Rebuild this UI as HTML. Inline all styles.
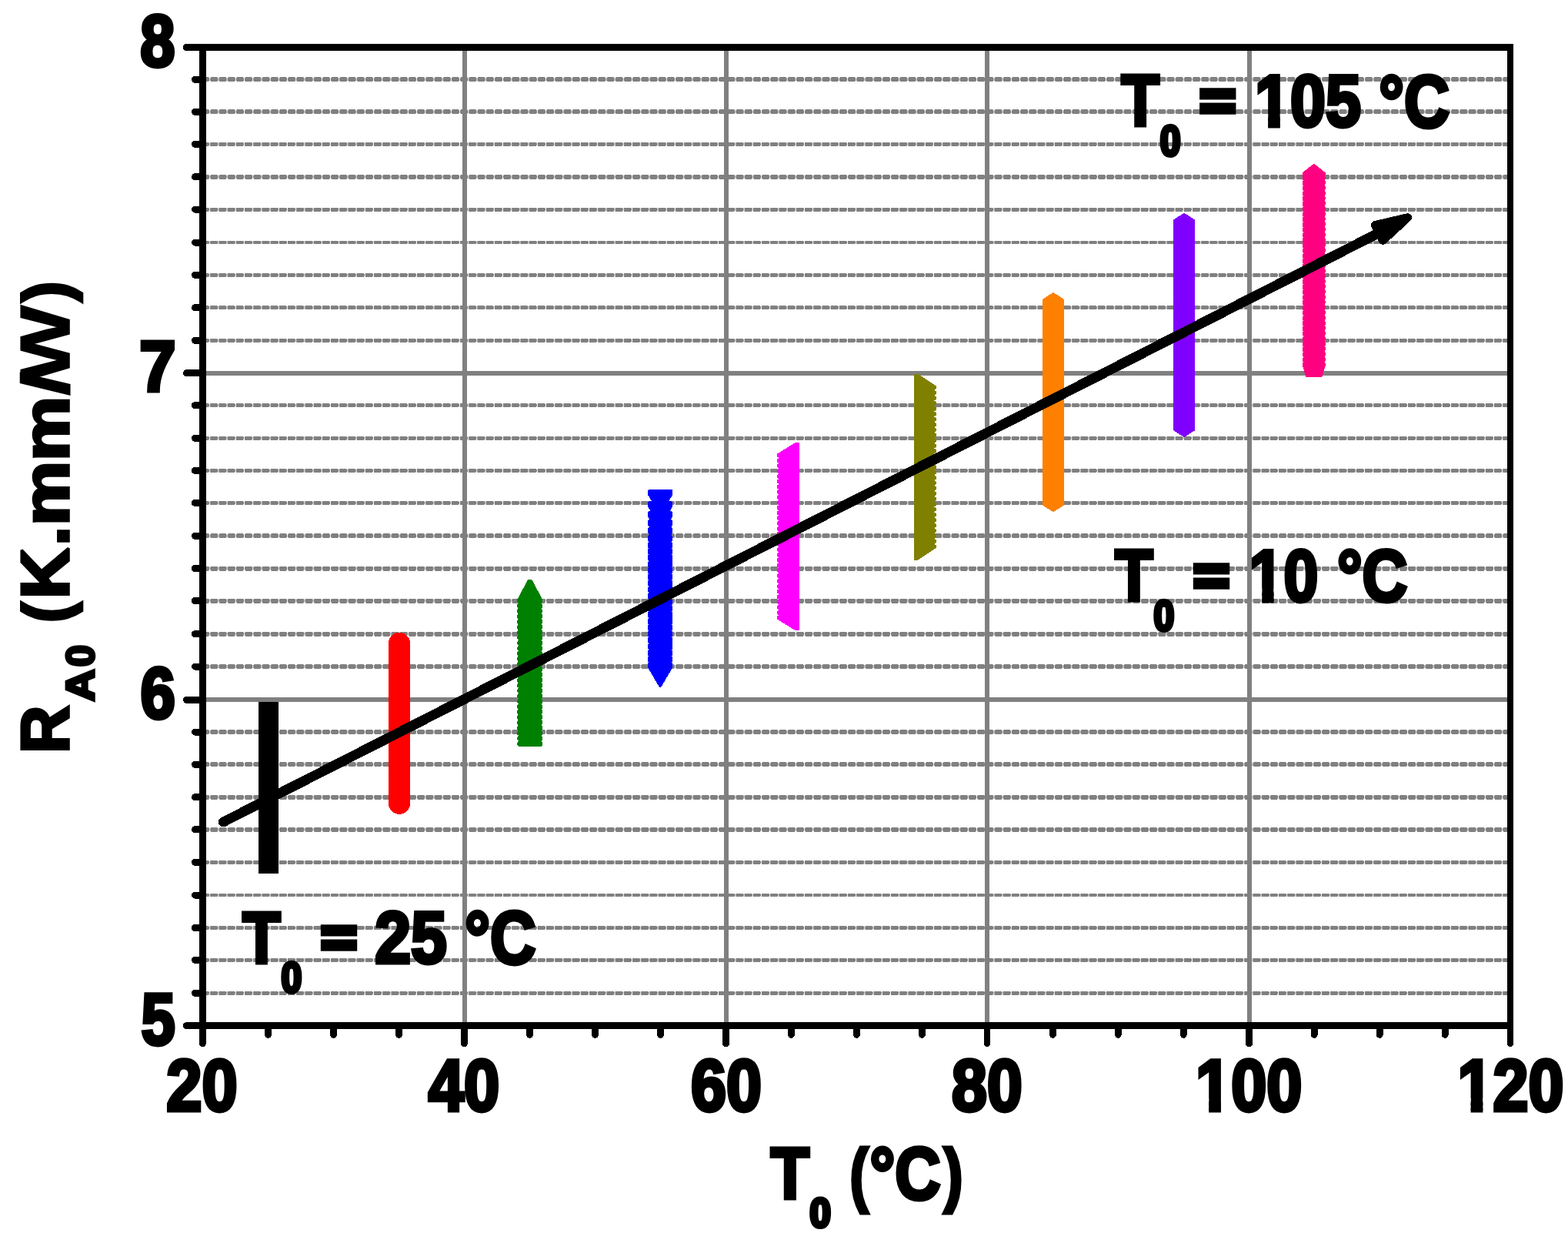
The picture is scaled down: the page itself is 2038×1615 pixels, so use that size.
<!DOCTYPE html>
<html lang="en">
<head>
<meta charset="utf-8">
<title>R_A0 versus T_0</title>
<style>
html,body{margin:0;padding:0;background:#fff;}
body{width:2038px;height:1615px;overflow:hidden;}
svg{display:block;}
</style>
</head>
<body>
<svg width="2038" height="1615" viewBox="0 0 2038 1615" shape-rendering="crispEdges">
<rect x="0" y="0" width="2038" height="1615" fill="#fff"/>
<g stroke="#808080" fill="none">
<defs>
<pattern id="dp" patternUnits="userSpaceOnUse" x="273.2" y="-3.0" width="11.2" height="6.0"><rect x="0" y="0" width="10.1" height="6.0" rx="2.6" ry="2.6" fill="#808080" stroke="none"/></pattern>
<pattern id="dr" patternUnits="userSpaceOnUse" x="273.2" y="-2.45" width="11.2" height="4.9"><rect x="0" y="0" width="9.8" height="4.9" rx="1.1" ry="1.1" fill="#808080" stroke="none"/></pattern>
</defs>
<rect x="263.5" y="-2.45" width="1699.75" height="4.9" fill="url(#dr)" stroke="none" transform="translate(0,1290.20)"/>
<rect x="263.5" y="-2.45" width="1699.75" height="4.9" fill="url(#dr)" stroke="none" transform="translate(0,1247.30)"/>
<rect x="263.5" y="-2.45" width="1699.75" height="4.9" fill="url(#dr)" stroke="none" transform="translate(0,1205.50)"/>
<rect x="263.5" y="-2.45" width="1699.75" height="4.9" fill="url(#dr)" stroke="none" transform="translate(0,1163.00)"/>
<rect x="263.5" y="-2.45" width="1699.75" height="4.9" fill="url(#dr)" stroke="none" transform="translate(0,1120.30)"/>
<rect x="263.5" y="-3.0" width="1699.75" height="6.0" fill="url(#dp)" stroke="none" transform="translate(0,1077.80)"/>
<rect x="263.5" y="-3.0" width="1699.75" height="6.0" fill="url(#dp)" stroke="none" transform="translate(0,1035.70)"/>
<rect x="263.5" y="-3.0" width="1699.75" height="6.0" fill="url(#dp)" stroke="none" transform="translate(0,993.20)"/>
<rect x="263.5" y="-3.0" width="1699.75" height="6.0" fill="url(#dp)" stroke="none" transform="translate(0,951.10)"/>
<rect x="263.5" y="-3.0" width="1699.75" height="6.0" fill="url(#dp)" stroke="none" transform="translate(0,866.00)"/>
<rect x="263.5" y="-3.0" width="1699.75" height="6.0" fill="url(#dp)" stroke="none" transform="translate(0,823.60)"/>
<rect x="263.5" y="-3.0" width="1699.75" height="6.0" fill="url(#dp)" stroke="none" transform="translate(0,780.50)"/>
<rect x="263.5" y="-3.0" width="1699.75" height="6.0" fill="url(#dp)" stroke="none" transform="translate(0,738.50)"/>
<rect x="263.5" y="-3.0" width="1699.75" height="6.0" fill="url(#dp)" stroke="none" transform="translate(0,696.20)"/>
<rect x="263.5" y="-2.45" width="1699.75" height="4.9" fill="url(#dr)" stroke="none" transform="translate(0,653.40)"/>
<rect x="263.5" y="-2.45" width="1699.75" height="4.9" fill="url(#dr)" stroke="none" transform="translate(0,611.40)"/>
<rect x="263.5" y="-2.45" width="1699.75" height="4.9" fill="url(#dr)" stroke="none" transform="translate(0,569.20)"/>
<rect x="263.5" y="-2.45" width="1699.75" height="4.9" fill="url(#dr)" stroke="none" transform="translate(0,526.60)"/>
<rect x="263.5" y="-2.45" width="1699.75" height="4.9" fill="url(#dr)" stroke="none" transform="translate(0,442.30)"/>
<rect x="263.5" y="-2.45" width="1699.75" height="4.9" fill="url(#dr)" stroke="none" transform="translate(0,399.70)"/>
<rect x="263.5" y="-2.45" width="1699.75" height="4.9" fill="url(#dr)" stroke="none" transform="translate(0,357.30)"/>
<rect x="263.5" y="-2.45" width="1699.75" height="4.9" fill="url(#dr)" stroke="none" transform="translate(0,315.00)"/>
<rect x="263.5" y="-2.45" width="1699.75" height="4.9" fill="url(#dr)" stroke="none" transform="translate(0,272.10)"/>
<rect x="263.5" y="-3.0" width="1699.75" height="6.0" fill="url(#dp)" stroke="none" transform="translate(0,229.80)"/>
<rect x="263.5" y="-2.45" width="1699.75" height="4.9" fill="url(#dr)" stroke="none" transform="translate(0,187.20)"/>
<rect x="263.5" y="-3.0" width="1699.75" height="6.0" fill="url(#dp)" stroke="none" transform="translate(0,145.20)"/>
<rect x="263.5" y="-3.0" width="1699.75" height="6.0" fill="url(#dp)" stroke="none" transform="translate(0,103.20)"/>
<line x1="263.5" y1="908.90" x2="1963.25" y2="908.90" stroke-width="5.9"/>
<line x1="263.5" y1="485.00" x2="1963.25" y2="485.00" stroke-width="5.9"/>
<line x1="604.00" y1="61.4" x2="604.00" y2="1332.7" stroke-width="5.8"/>
<line x1="944.00" y1="61.4" x2="944.00" y2="1332.7" stroke-width="5.8"/>
<line x1="1283.00" y1="61.4" x2="1283.00" y2="1332.7" stroke-width="5.8"/>
<line x1="1624.00" y1="61.4" x2="1624.00" y2="1332.7" stroke-width="5.8"/>
</g>
<rect x="336.0" y="911.8" width="26" height="223.1" fill="#000"/>
<rect x="504.8" y="821.8" width="28.4" height="236" rx="14.2" ry="14.2" fill="#ff0000"/>
<g fill="#008000">
<defs><polygon id="m3" points="-1.4,0.0 1.4,0.0 3.2,1.6 16.4,26.2 16.4,29.4 14.6,31.0 -14.6,31.0 -16.4,29.4 -16.4,26.2 -3.2,1.6"/></defs>
<use href="#m3" x="688.7" y="752.7"/><use href="#m3" x="688.7" y="759.6"/><use href="#m3" x="688.7" y="766.5"/><use href="#m3" x="688.7" y="773.4"/><use href="#m3" x="688.7" y="780.3"/><use href="#m3" x="688.7" y="787.2"/><use href="#m3" x="688.7" y="794.1"/><use href="#m3" x="688.7" y="800.9"/><use href="#m3" x="688.7" y="807.8"/><use href="#m3" x="688.7" y="814.7"/><use href="#m3" x="688.7" y="821.6"/><use href="#m3" x="688.7" y="828.5"/><use href="#m3" x="688.7" y="835.4"/><use href="#m3" x="688.7" y="842.3"/><use href="#m3" x="688.7" y="849.2"/><use href="#m3" x="688.7" y="856.1"/><use href="#m3" x="688.7" y="863.0"/><use href="#m3" x="688.7" y="869.9"/><use href="#m3" x="688.7" y="876.8"/><use href="#m3" x="688.7" y="883.7"/><use href="#m3" x="688.7" y="890.6"/><use href="#m3" x="688.7" y="897.4"/><use href="#m3" x="688.7" y="904.3"/><use href="#m3" x="688.7" y="911.2"/><use href="#m3" x="688.7" y="918.1"/><use href="#m3" x="688.7" y="925.0"/><use href="#m3" x="688.7" y="931.9"/><use href="#m3" x="688.7" y="938.8"/>
</g>
<g fill="#0000ff">
<defs><polygon id="m4" points="-14.6,0.0 14.6,0.0 16.2,1.2 16.2,6.6 1.6,31.6 0.0,32.5 -1.6,31.6 -16.2,6.6 -16.2,1.2"/></defs>
<use href="#m4" x="858.1" y="635.9"/><use href="#m4" x="858.1" y="651.2"/><use href="#m4" x="858.1" y="664.2"/><use href="#m4" x="858.1" y="675.1"/><use href="#m4" x="858.1" y="685.4"/><use href="#m4" x="858.1" y="695.4"/><use href="#m4" x="858.1" y="704.2"/><use href="#m4" x="858.1" y="712.4"/><use href="#m4" x="858.1" y="720.7"/><use href="#m4" x="858.1" y="728.9"/><use href="#m4" x="858.1" y="737.1"/><use href="#m4" x="858.1" y="745.3"/><use href="#m4" x="858.1" y="753.6"/><use href="#m4" x="858.1" y="761.8"/><use href="#m4" x="858.1" y="770.0"/><use href="#m4" x="858.1" y="778.2"/><use href="#m4" x="858.1" y="786.5"/><use href="#m4" x="858.1" y="794.7"/><use href="#m4" x="858.1" y="802.9"/><use href="#m4" x="858.1" y="811.1"/><use href="#m4" x="858.1" y="819.4"/><use href="#m4" x="858.1" y="827.6"/><use href="#m4" x="858.1" y="835.8"/><use href="#m4" x="858.1" y="844.0"/><use href="#m4" x="858.1" y="852.3"/><use href="#m4" x="858.1" y="860.5"/>
</g>
<g fill="#ff00ff">
<defs><polygon id="m5" points="14.7,-16.7 14.7,16.7 9.5,16.7 -14.4,1.9 -14.4,-1.9 9.5,-16.7"/></defs>
<use href="#m5" x="1024.4" y="591.6"/><use href="#m5" x="1024.4" y="598.4"/><use href="#m5" x="1024.4" y="605.2"/><use href="#m5" x="1024.4" y="612.0"/><use href="#m5" x="1024.4" y="618.8"/><use href="#m5" x="1024.4" y="625.6"/><use href="#m5" x="1024.4" y="632.4"/><use href="#m5" x="1024.4" y="639.2"/><use href="#m5" x="1024.4" y="646.1"/><use href="#m5" x="1024.4" y="652.9"/><use href="#m5" x="1024.4" y="659.7"/><use href="#m5" x="1024.4" y="666.5"/><use href="#m5" x="1024.4" y="673.3"/><use href="#m5" x="1024.4" y="680.1"/><use href="#m5" x="1024.4" y="686.9"/><use href="#m5" x="1024.4" y="693.7"/><use href="#m5" x="1024.4" y="700.5"/><use href="#m5" x="1024.4" y="707.3"/><use href="#m5" x="1024.4" y="714.1"/><use href="#m5" x="1024.4" y="720.9"/><use href="#m5" x="1024.4" y="727.7"/><use href="#m5" x="1024.4" y="734.5"/><use href="#m5" x="1024.4" y="741.3"/><use href="#m5" x="1024.4" y="748.1"/><use href="#m5" x="1024.4" y="755.0"/><use href="#m5" x="1024.4" y="761.8"/><use href="#m5" x="1024.4" y="768.6"/><use href="#m5" x="1024.4" y="775.4"/><use href="#m5" x="1024.4" y="782.2"/><use href="#m5" x="1024.4" y="789.0"/><use href="#m5" x="1024.4" y="795.8"/><use href="#m5" x="1024.4" y="802.6"/>
</g>
<g fill="#808000">
<defs><polygon id="m6" points="-14.4,-17.5 -9.6,-17.5 14.3,-1.6 14.3,1.6 -9.6,17.5 -14.4,17.5"/></defs>
<use href="#m6" x="1202.7" y="503.4"/><use href="#m6" x="1202.7" y="510.3"/><use href="#m6" x="1202.7" y="517.2"/><use href="#m6" x="1202.7" y="524.1"/><use href="#m6" x="1202.7" y="531.0"/><use href="#m6" x="1202.7" y="537.9"/><use href="#m6" x="1202.7" y="544.8"/><use href="#m6" x="1202.7" y="551.7"/><use href="#m6" x="1202.7" y="558.5"/><use href="#m6" x="1202.7" y="565.4"/><use href="#m6" x="1202.7" y="572.3"/><use href="#m6" x="1202.7" y="579.2"/><use href="#m6" x="1202.7" y="586.1"/><use href="#m6" x="1202.7" y="593.0"/><use href="#m6" x="1202.7" y="599.9"/><use href="#m6" x="1202.7" y="606.8"/><use href="#m6" x="1202.7" y="613.7"/><use href="#m6" x="1202.7" y="620.6"/><use href="#m6" x="1202.7" y="627.5"/><use href="#m6" x="1202.7" y="634.4"/><use href="#m6" x="1202.7" y="641.3"/><use href="#m6" x="1202.7" y="648.2"/><use href="#m6" x="1202.7" y="655.1"/><use href="#m6" x="1202.7" y="661.9"/><use href="#m6" x="1202.7" y="668.8"/><use href="#m6" x="1202.7" y="675.7"/><use href="#m6" x="1202.7" y="682.6"/><use href="#m6" x="1202.7" y="689.5"/><use href="#m6" x="1202.7" y="696.4"/><use href="#m6" x="1202.7" y="703.3"/><use href="#m6" x="1202.7" y="710.2"/>
</g>
<g fill="#ff8000">
<defs><polygon id="m7" points="0.0,0.0 14.0,8.9 14.0,23.6 0.0,32.5 -14.0,23.6 -14.0,8.9"/></defs>
<use href="#m7" x="1369.0" y="380.0"/><use href="#m7" x="1369.0" y="386.8"/><use href="#m7" x="1369.0" y="393.7"/><use href="#m7" x="1369.0" y="400.5"/><use href="#m7" x="1369.0" y="407.3"/><use href="#m7" x="1369.0" y="414.2"/><use href="#m7" x="1369.0" y="421.0"/><use href="#m7" x="1369.0" y="427.8"/><use href="#m7" x="1369.0" y="434.7"/><use href="#m7" x="1369.0" y="441.5"/><use href="#m7" x="1369.0" y="448.3"/><use href="#m7" x="1369.0" y="455.2"/><use href="#m7" x="1369.0" y="462.0"/><use href="#m7" x="1369.0" y="468.8"/><use href="#m7" x="1369.0" y="475.7"/><use href="#m7" x="1369.0" y="482.5"/><use href="#m7" x="1369.0" y="489.3"/><use href="#m7" x="1369.0" y="496.2"/><use href="#m7" x="1369.0" y="503.0"/><use href="#m7" x="1369.0" y="509.8"/><use href="#m7" x="1369.0" y="516.6"/><use href="#m7" x="1369.0" y="523.5"/><use href="#m7" x="1369.0" y="530.3"/><use href="#m7" x="1369.0" y="537.1"/><use href="#m7" x="1369.0" y="544.0"/><use href="#m7" x="1369.0" y="550.8"/><use href="#m7" x="1369.0" y="557.6"/><use href="#m7" x="1369.0" y="564.5"/><use href="#m7" x="1369.0" y="571.3"/><use href="#m7" x="1369.0" y="578.1"/><use href="#m7" x="1369.0" y="585.0"/><use href="#m7" x="1369.0" y="591.8"/><use href="#m7" x="1369.0" y="598.6"/><use href="#m7" x="1369.0" y="605.5"/><use href="#m7" x="1369.0" y="612.3"/><use href="#m7" x="1369.0" y="619.1"/><use href="#m7" x="1369.0" y="626.0"/><use href="#m7" x="1369.0" y="632.8"/>
</g>
<g fill="#8000ff">
<defs><polygon id="m8" points="0.0,0.0 13.9,8.8 13.9,23.6 0.0,32.4 -13.9,23.6 -13.9,8.8"/></defs>
<use href="#m8" x="1539.1" y="276.7"/><use href="#m8" x="1539.1" y="283.5"/><use href="#m8" x="1539.1" y="290.3"/><use href="#m8" x="1539.1" y="297.1"/><use href="#m8" x="1539.1" y="304.0"/><use href="#m8" x="1539.1" y="310.8"/><use href="#m8" x="1539.1" y="317.6"/><use href="#m8" x="1539.1" y="324.4"/><use href="#m8" x="1539.1" y="331.2"/><use href="#m8" x="1539.1" y="338.0"/><use href="#m8" x="1539.1" y="344.9"/><use href="#m8" x="1539.1" y="351.7"/><use href="#m8" x="1539.1" y="358.5"/><use href="#m8" x="1539.1" y="365.3"/><use href="#m8" x="1539.1" y="372.1"/><use href="#m8" x="1539.1" y="378.9"/><use href="#m8" x="1539.1" y="385.8"/><use href="#m8" x="1539.1" y="392.6"/><use href="#m8" x="1539.1" y="399.4"/><use href="#m8" x="1539.1" y="406.2"/><use href="#m8" x="1539.1" y="413.0"/><use href="#m8" x="1539.1" y="419.8"/><use href="#m8" x="1539.1" y="426.6"/><use href="#m8" x="1539.1" y="433.5"/><use href="#m8" x="1539.1" y="440.3"/><use href="#m8" x="1539.1" y="447.1"/><use href="#m8" x="1539.1" y="453.9"/><use href="#m8" x="1539.1" y="460.7"/><use href="#m8" x="1539.1" y="467.5"/><use href="#m8" x="1539.1" y="474.4"/><use href="#m8" x="1539.1" y="481.2"/><use href="#m8" x="1539.1" y="488.0"/><use href="#m8" x="1539.1" y="494.8"/><use href="#m8" x="1539.1" y="501.6"/><use href="#m8" x="1539.1" y="508.4"/><use href="#m8" x="1539.1" y="515.3"/><use href="#m8" x="1539.1" y="522.1"/><use href="#m8" x="1539.1" y="528.9"/><use href="#m8" x="1539.1" y="535.7"/>
</g>
<g fill="#ff0080">
<defs><polygon id="m9" points="0.0,0.0 1.2,0.5 15.1,11.4 15.1,13.5 10.4,29.7 -10.4,29.7 -15.1,13.5 -15.1,11.4 -1.2,0.5"/></defs>
<use href="#m9" x="1707.8" y="213.0"/><use href="#m9" x="1707.8" y="217.5"/><use href="#m9" x="1707.8" y="224.3"/><use href="#m9" x="1707.8" y="231.0"/><use href="#m9" x="1707.8" y="237.8"/><use href="#m9" x="1707.8" y="244.5"/><use href="#m9" x="1707.8" y="251.3"/><use href="#m9" x="1707.8" y="258.0"/><use href="#m9" x="1707.8" y="264.8"/><use href="#m9" x="1707.8" y="271.5"/><use href="#m9" x="1707.8" y="278.3"/><use href="#m9" x="1707.8" y="285.1"/><use href="#m9" x="1707.8" y="291.8"/><use href="#m9" x="1707.8" y="298.6"/><use href="#m9" x="1707.8" y="305.3"/><use href="#m9" x="1707.8" y="312.1"/><use href="#m9" x="1707.8" y="318.8"/><use href="#m9" x="1707.8" y="325.6"/><use href="#m9" x="1707.8" y="332.3"/><use href="#m9" x="1707.8" y="339.1"/><use href="#m9" x="1707.8" y="345.9"/><use href="#m9" x="1707.8" y="352.6"/><use href="#m9" x="1707.8" y="359.4"/><use href="#m9" x="1707.8" y="366.1"/><use href="#m9" x="1707.8" y="372.9"/><use href="#m9" x="1707.8" y="379.6"/><use href="#m9" x="1707.8" y="386.4"/><use href="#m9" x="1707.8" y="393.1"/><use href="#m9" x="1707.8" y="399.9"/><use href="#m9" x="1707.8" y="406.7"/><use href="#m9" x="1707.8" y="413.4"/><use href="#m9" x="1707.8" y="420.2"/><use href="#m9" x="1707.8" y="426.9"/><use href="#m9" x="1707.8" y="433.7"/><use href="#m9" x="1707.8" y="440.4"/><use href="#m9" x="1707.8" y="447.2"/><use href="#m9" x="1707.8" y="453.9"/><use href="#m9" x="1707.8" y="460.7"/>
</g>
<line x1="290.3" y1="1068.0" x2="1792.5" y2="302.4" stroke="#000" stroke-width="12.8" stroke-linecap="round"/>
<polygon points="1829.6,282.7 1787.5,292.5 1797.5,312.2" fill="#000" stroke="#000" stroke-width="11" stroke-linejoin="round"/>
<g stroke="#000" stroke-width="9.0" fill="none" stroke-linecap="round">
<line x1="263.5" y1="61.4" x2="1963.25" y2="61.4" stroke-width="8.9" stroke-linecap="butt"/>
<line x1="263.5" y1="1332.7" x2="1963.25" y2="1332.7" stroke-width="8.8" stroke-linecap="butt"/>
<line x1="263.5" y1="56.949999999999996" x2="263.5" y2="1337.1000000000001" stroke-width="8.9" stroke-linecap="butt"/>
<line x1="263.5" y1="1335.7" x2="263.5" y2="1355.6" stroke-width="8.9"/>
<line x1="1963.0" y1="56.949999999999996" x2="1963.0" y2="1337.1000000000001" stroke-width="7.8" stroke-linecap="butt"/>
<line x1="242.3" y1="1332.70" x2="260.5" y2="1332.70"/>
<line x1="253.4" y1="1290.20" x2="260.5" y2="1290.20"/>
<line x1="253.4" y1="1247.30" x2="260.5" y2="1247.30"/>
<line x1="253.4" y1="1205.50" x2="260.5" y2="1205.50"/>
<line x1="253.4" y1="1163.00" x2="260.5" y2="1163.00"/>
<line x1="253.4" y1="1120.30" x2="260.5" y2="1120.30"/>
<line x1="253.4" y1="1077.80" x2="260.5" y2="1077.80"/>
<line x1="253.4" y1="1035.70" x2="260.5" y2="1035.70"/>
<line x1="253.4" y1="993.20" x2="260.5" y2="993.20"/>
<line x1="253.4" y1="951.10" x2="260.5" y2="951.10"/>
<line x1="242.3" y1="909.20" x2="260.5" y2="909.20"/>
<line x1="253.4" y1="866.00" x2="260.5" y2="866.00"/>
<line x1="253.4" y1="823.60" x2="260.5" y2="823.60"/>
<line x1="253.4" y1="780.50" x2="260.5" y2="780.50"/>
<line x1="253.4" y1="738.50" x2="260.5" y2="738.50"/>
<line x1="253.4" y1="696.20" x2="260.5" y2="696.20"/>
<line x1="253.4" y1="653.40" x2="260.5" y2="653.40"/>
<line x1="253.4" y1="611.40" x2="260.5" y2="611.40"/>
<line x1="253.4" y1="569.20" x2="260.5" y2="569.20"/>
<line x1="253.4" y1="526.60" x2="260.5" y2="526.60"/>
<line x1="242.3" y1="484.80" x2="260.5" y2="484.80"/>
<line x1="253.4" y1="442.30" x2="260.5" y2="442.30"/>
<line x1="253.4" y1="399.70" x2="260.5" y2="399.70"/>
<line x1="253.4" y1="357.30" x2="260.5" y2="357.30"/>
<line x1="253.4" y1="315.00" x2="260.5" y2="315.00"/>
<line x1="253.4" y1="272.10" x2="260.5" y2="272.10"/>
<line x1="253.4" y1="229.80" x2="260.5" y2="229.80"/>
<line x1="253.4" y1="187.20" x2="260.5" y2="187.20"/>
<line x1="253.4" y1="145.20" x2="260.5" y2="145.20"/>
<line x1="253.4" y1="103.20" x2="260.5" y2="103.20"/>
<line x1="242.3" y1="61.40" x2="260.5" y2="61.40"/>
<line x1="348.49" y1="1335.7" x2="348.49" y2="1344.40" stroke-width="8.8"/>
<line x1="433.48" y1="1335.7" x2="433.48" y2="1344.40" stroke-width="8.8"/>
<line x1="518.46" y1="1335.7" x2="518.46" y2="1344.40" stroke-width="8.8"/>
<line x1="603.40" y1="1335.7" x2="603.40" y2="1355.60" stroke-width="9.0"/>
<line x1="688.44" y1="1335.7" x2="688.44" y2="1344.40" stroke-width="8.8"/>
<line x1="773.42" y1="1335.7" x2="773.42" y2="1344.40" stroke-width="8.8"/>
<line x1="858.41" y1="1335.7" x2="858.41" y2="1344.40" stroke-width="8.8"/>
<line x1="943.50" y1="1335.7" x2="943.50" y2="1355.60" stroke-width="9.0"/>
<line x1="1028.39" y1="1335.7" x2="1028.39" y2="1344.40" stroke-width="8.8"/>
<line x1="1113.38" y1="1335.7" x2="1113.38" y2="1344.40" stroke-width="8.8"/>
<line x1="1198.36" y1="1335.7" x2="1198.36" y2="1344.40" stroke-width="8.8"/>
<line x1="1283.00" y1="1335.7" x2="1283.00" y2="1356.10" stroke-width="8.0"/>
<line x1="1368.34" y1="1335.7" x2="1368.34" y2="1344.40" stroke-width="8.8"/>
<line x1="1453.33" y1="1335.7" x2="1453.33" y2="1344.40" stroke-width="8.8"/>
<line x1="1538.31" y1="1335.7" x2="1538.31" y2="1344.40" stroke-width="8.8"/>
<line x1="1623.50" y1="1335.7" x2="1623.50" y2="1355.60" stroke-width="9.0"/>
<line x1="1708.29" y1="1335.7" x2="1708.29" y2="1344.40" stroke-width="8.8"/>
<line x1="1793.28" y1="1335.7" x2="1793.28" y2="1344.40" stroke-width="8.8"/>
<line x1="1878.26" y1="1335.7" x2="1878.26" y2="1344.40" stroke-width="8.8"/>
<line x1="1963.00" y1="1335.7" x2="1963.00" y2="1356.20" stroke-width="7.8"/>
</g>
<g font-family="'Liberation Sans', Arial, Helvetica, sans-serif" font-weight="bold" fill="#000" stroke="#000" stroke-linejoin="miter" stroke-miterlimit="2.2" style="font-kerning:none" text-rendering="geometricPrecision">
<text transform="translate(182.35,85.77) scale(0.8539,1)" font-size="95.20" stroke-width="5.0">8</text>
<text transform="translate(181.33,507.80) scale(0.9126,1)" font-size="93.02" stroke-width="5.0">7</text>
<text transform="translate(182.43,933.33) scale(0.8651,1)" font-size="94.28" stroke-width="5.0">6</text>
<text transform="translate(183.40,1357.32) scale(0.8374,1)" font-size="94.95" stroke-width="5.0">5</text>
<text transform="translate(216.31,1443.27) scale(0.8753,1)" font-size="94.91" stroke-width="5.0">20</text>
<text transform="translate(556.68,1443.27) scale(0.8765,1)" font-size="94.91" stroke-width="5.0">40</text>
<text transform="translate(897.90,1443.27) scale(0.8721,1)" font-size="94.91" stroke-width="5.0">60</text>
<text transform="translate(1237.06,1443.27) scale(0.8682,1)" font-size="94.91" stroke-width="5.0">80</text>
<clipPath id="c1_1"><path clip-rule="evenodd" d="M-60,-160H284.7V80H-60Z M-60,-16.19H19.63V80H-60Z M37.70,-16.19H53.34V80H37.70Z"/></clipPath><text transform="translate(1554.01,1443.27) scale(0.8743,1)" font-size="94.91" stroke-width="5.0" clip-path="url(#c1_1)">100</text>
<clipPath id="c1_2"><path clip-rule="evenodd" d="M-60,-160H284.7V80H-60Z M-60,-16.19H19.63V80H-60Z M37.70,-16.19H53.11V80H37.70Z"/></clipPath><text transform="translate(1894.53,1443.27) scale(0.8710,1)" font-size="94.91" stroke-width="5.0" clip-path="url(#c1_2)">120</text>
<g><text transform="translate(89.30,979.02) rotate(-90) scale(0.9783,1)" font-size="88.37" stroke-width="3.6">R</text><text transform="translate(122.20,911.13) rotate(-90) scale(1.1130,1)" font-size="51.82" stroke-width="3.6">A</text><text transform="translate(122.45,866.33) rotate(-90) scale(0.9875,1)" font-size="51.41" stroke-width="3.6">0</text> <text transform="translate(88.68,808.95) rotate(-90) scale(0.9370,1)" font-size="84.43" stroke-width="3.6">(</text><text transform="translate(89.30,778.29) rotate(-90) scale(1.0430,1)" font-size="88.37" stroke-width="3.6">K</text><text transform="translate(89.30,709.13) rotate(-90) scale(1.0423,1)" font-size="88.37" stroke-width="3.6">.</text><text transform="translate(89.30,683.02) rotate(-90) scale(1.1194,1)" font-size="84.48" stroke-width="3.6">mm</text><text transform="translate(89.47,513.85) rotate(-90) scale(1.2610,1)" font-size="86.22" stroke-width="1.6">/</text><text transform="translate(90.30,496.18) rotate(-90) scale(1.1544,1)" font-size="91.28" stroke-width="1.6">W</text><text transform="translate(88.68,392.36) rotate(-90) scale(0.9552,1)" font-size="84.43" stroke-width="3.6">)</text></g>
<g><text transform="translate(1001.75,1557.00) scale(0.8700,1)" font-size="94.48" stroke-width="5.0">T</text><text transform="translate(1052.38,1593.98) scale(0.9275,1)" font-size="52.97" stroke-width="5.0">0</text> <text transform="translate(1104.67,1556.58) scale(0.7727,1)" font-size="91.19" stroke-width="5.0">(</text><text transform="translate(1130.52,1557.56) scale(0.8520,1)" font-size="96.33" stroke-width="5.0">°C</text><text transform="translate(1226.92,1556.58) scale(0.7971,1)" font-size="91.19" stroke-width="5.0">)</text></g>
<g><text transform="translate(1457.48,163.35) scale(0.8531,1)" font-size="94.62" stroke-width="5.0">T</text><text transform="translate(1507.71,202.01) scale(0.8644,1)" font-size="55.65" stroke-width="5.0">0</text> <text transform="translate(1559.88,154.66) scale(1.0949,1)" font-size="71.18" stroke-width="7.6">=</text> <clipPath id="c1_3"><path clip-rule="evenodd" d="M-60,-160H286.0V80H-60Z M-60,-16.23H19.73V80H-60Z M37.85,-16.23H53.58V80H37.85Z"/></clipPath><text transform="translate(1631.02,163.82) scale(0.8667,1)" font-size="95.34" stroke-width="5.0" clip-path="url(#c1_3)">105</text> <text transform="translate(1792.29,164.56) scale(0.8497,1)" font-size="96.04" stroke-width="5.0">°C</text></g>
<g><text transform="translate(1449.23,780.35) scale(0.8531,1)" font-size="94.62" stroke-width="5.0">T</text><text transform="translate(1499.46,819.01) scale(0.8644,1)" font-size="55.65" stroke-width="5.0">0</text> <text transform="translate(1551.63,771.66) scale(1.0949,1)" font-size="71.18" stroke-width="7.6">=</text> <clipPath id="c1_4"><path clip-rule="evenodd" d="M-60,-160H286.0V80H-60Z M-60,-16.23H19.73V80H-60Z M37.85,-16.23H53.58V80H37.85Z"/></clipPath><text transform="translate(1623.61,780.82) scale(0.8448,1)" font-size="95.34" stroke-width="5.0" clip-path="url(#c1_4)">10</text> <text transform="translate(1738.06,780.57) scale(0.8533,1)" font-size="95.34" stroke-width="5.0">°C</text></g>
<g><text transform="translate(315.33,1250.60) scale(0.8531,1)" font-size="94.62" stroke-width="5.0">T</text><text transform="translate(365.56,1289.26) scale(0.8644,1)" font-size="55.65" stroke-width="5.0">0</text> <text transform="translate(417.73,1241.91) scale(1.0949,1)" font-size="71.18" stroke-width="7.6">=</text> <text transform="translate(487.19,1251.07) scale(0.8831,1)" font-size="95.34" stroke-width="5.0">25</text> <text transform="translate(604.00,1251.75) scale(0.8456,1)" font-size="97.32" stroke-width="5.0">°C</text></g>
</g>
</svg>
</body>
</html>
